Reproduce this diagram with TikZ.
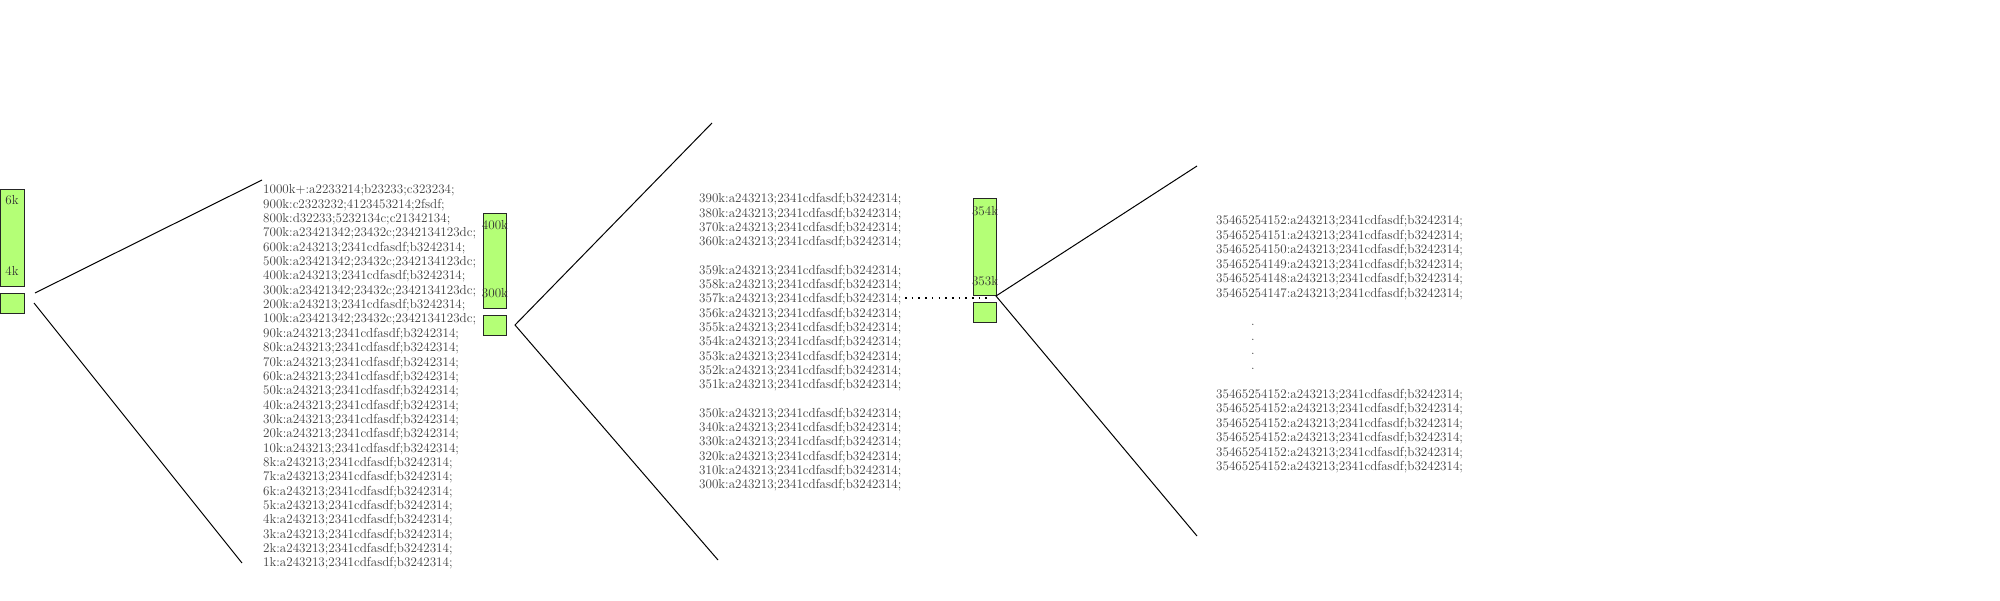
\documentclass[tikz,border=0pt]{standalone}
\definecolor{barfill}{RGB}{180,255,118}
\definecolor{txt}{RGB}{62,62,62}
\begin{document}
\begin{tikzpicture}[x=0.5pt,y=-0.5pt,
  rec/.style={draw=black!85, fill=barfill, line width=0.6pt, inner sep=0pt, anchor=north west},
  row/.style={anchor=base west, inner sep=0pt, text=txt, scale=0.5, font=\fontsize{13.1}{14}\selectfont},
  lbl/.style={inner sep=0pt, text=black!80, scale=0.5, font=\fontsize{13.1}{14}\selectfont},
  link/.style={line width=0.5pt},
  dotline/.style={line width=0.8pt, dash pattern=on 0.8pt off 2.55pt}]
\useasboundingbox (0,0) rectangle (2000,600);

% ---- bars ----
\node[rec, minimum width=12pt, minimum height=48.5pt] (bar1) at (0,189) {};
\node[rec, minimum width=12pt, minimum height=10pt] (box1) at (0,293) {};
\node[lbl] (l6k) at (12,200) {6k};
\node[lbl] (l4k) at (12,271) {4k};

\node[rec, minimum width=11.5pt, minimum height=47.5pt] (bar2) at (483,213) {};
\node[rec, minimum width=11.5pt, minimum height=10pt] (box2) at (483,315) {};
\node[lbl] (l400k) at (495,225) {400k};
\node[lbl] (l300k) at (495,293) {300k};

\node[rec, minimum width=11.5pt, minimum height=48.5pt] (bar3) at (973,198) {};
\node[rec, minimum width=11.5pt, minimum height=10pt] (box3) at (973,302) {};
\node[lbl] (l354k) at (985,211) {354k};
\node[lbl] (l353k) at (985,281) {353k};

% ---- block 1 ----
\foreach \t [count=\i from 0] in {1000k+:a2233214;b23233;c323234;,
  900k:c2323232;4123453214;2fsdf;,
  800k:d32233;5232134c;c21342134;,
  700k:a23421342;23432c;2342134123dc;,
  600k:a243213;2341cdfasdf;b3242314;,
  500k:a23421342;23432c;2342134123dc;,
  400k:a243213;2341cdfasdf;b3242314;,
  300k:a23421342;23432c;2342134123dc;,
  200k:a243213;2341cdfasdf;b3242314;,
  100k:a23421342;23432c;2342134123dc;,
  90k:a243213;2341cdfasdf;b3242314;,
  80k:a243213;2341cdfasdf;b3242314;,
  70k:a243213;2341cdfasdf;b3242314;,
  60k:a243213;2341cdfasdf;b3242314;,
  50k:a243213;2341cdfasdf;b3242314;,
  40k:a243213;2341cdfasdf;b3242314;,
  30k:a243213;2341cdfasdf;b3242314;,
  20k:a243213;2341cdfasdf;b3242314;,
  10k:a243213;2341cdfasdf;b3242314;,
  8k:a243213;2341cdfasdf;b3242314;,
  7k:a243213;2341cdfasdf;b3242314;,
  6k:a243213;2341cdfasdf;b3242314;,
  5k:a243213;2341cdfasdf;b3242314;,
  4k:a243213;2341cdfasdf;b3242314;,
  3k:a243213;2341cdfasdf;b3242314;,
  2k:a243213;2341cdfasdf;b3242314;,
  1k:a243213;2341cdfasdf;b3242314;}
  \node[row] (a\i) at (263,{193.8+14.35*\i}) {\t};

% ---- block 3 ----
\foreach \k/\i in {390/0,380/1,370/2,360/3,359/5,358/6,357/7,356/8,355/9,354/10,353/11,352/12,351/13,350/15,340/16,330/17,320/18,310/19,300/20}
  \node[row] (r\k) at (699,{202.7+14.3*\i}) {\k k:a243213;2341cdfasdf;b3242314;};

% ---- block 4 ----
\foreach \k/\i in {152/0,151/1,150/2,149/3,148/4,147/5}
  \node[row] (t\i) at (1216,{224.7+14.47*\i}) {35465254\k:a243213;2341cdfasdf;b3242314;};
\foreach \i in {7,8,9,10}
  \node[row] (d\i) at (1251,{224.7+14.47*\i}) {.};
\foreach \i in {12,13,14,15,16,17}
  \node[row] (t\i) at (1216,{224.7+14.47*\i}) {35465254152:a243213;2341cdfasdf;b3242314;};

% ---- connectors ----
\coordinate (c1s) at (35,293);
\coordinate (c1t) at (34,303);
\coordinate (c1u) at (262,180);
\coordinate (c1d) at (242,563);
\draw[link] (c1s) -- (c1u);
\draw[link] (c1t) -- (c1d);

\coordinate (c2s) at (515,325);
\coordinate (c2u) at (712,123);
\coordinate (c2d) at (718,560);
\draw[link] (c2u) -- (c2s) -- (c2d);

\coordinate (c3s) at (996,296);
\coordinate (c3u) at (1197,166);
\coordinate (c3d) at (1197,536);
\draw[link] (c3u) -- (c3s) -- (c3d);

\coordinate (dotstart) at (905,298);
\coordinate (dotend) at (990,298);
\draw[dotline] (dotstart) -- (dotend);
\end{tikzpicture}
\end{document}
